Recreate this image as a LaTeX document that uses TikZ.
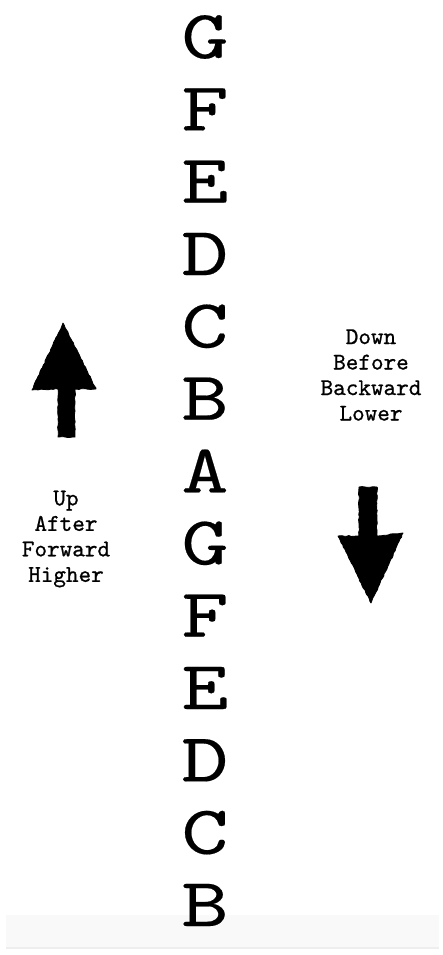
\documentclass[tikz,border=0pt]{standalone}
\usepackage{fontspec}
\usepackage{graphicx}
\usetikzlibrary{decorations.pathmorphing}
\newfontfamily\typerbig[FakeBold=0.25]{lmmono10-regular.otf}
\newfontfamily\typersmall[FakeBold=0.8]{lmmono10-regular.otf}
\definecolor{bandgrey}{HTML}{F9F9F9}
\definecolor{bandedge}{HTML}{EEEEEE}
\begin{document}
\begin{tikzpicture}[x=1pt,y=-1pt,
  noteletter/.style={inner sep=0pt, font=\typerbig\fontsize{69}{69}\selectfont},
  sidetext/.style={inner sep=0pt, align=center, font=\typersmall\fontsize{24}{25.5}\selectfont},
  sketcharrow/.style={fill=black, draw=black, line width=0.8pt, line join=round,
    decorate, decoration={random steps, segment length=2.5pt, amplitude=0.5pt}}]
\useasboundingbox (0,0) rectangle (443,955);
\fill[white] (0,0) rectangle (443,955);
% grey band
\fill[bandgrey] (6,915) rectangle (439,949);
\fill[bandedge] (6,947) rectangle (439,949);
% letters
\foreach \l [count=\i from 0] in {G,F,E,D,C,B,A,G,F,E,D,C,B} {
  \node[noteletter] (n\i) at (205,{37+72.33*\i}) {\scalebox{1.3}[1]{\l}};
}
% side texts
\node[sidetext] (left) at (66,539) {Up\\After\\Forward\\Higher};
\node[sidetext] (right) at (371,375) {Down\\Before\\Backward\\Lower};
% arrows
\draw[sketcharrow] (63,323) -- (96,389) -- (75,389) -- (75,437) -- (58,437) -- (58,389) -- (32,390) -- cycle;
\draw[sketcharrow] (371,603) -- (403,533) -- (377,536) -- (377,487) -- (359,487) -- (359,536) -- (338,536) -- cycle;
\end{tikzpicture}
\end{document}
